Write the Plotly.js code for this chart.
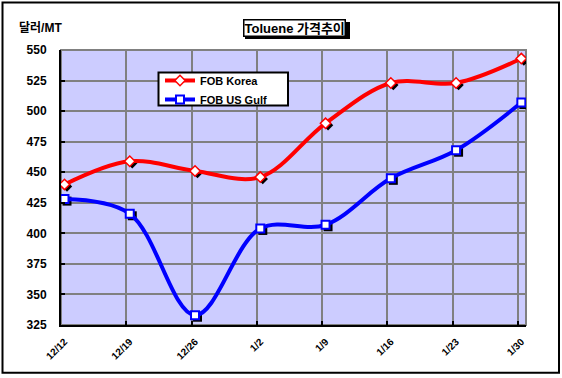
<!DOCTYPE html>
<html><head><meta charset="utf-8">
<script src="https://cdn.plot.ly/plotly-3.0.1.min.js"></script>
<style>html,body{margin:0;padding:0;background:#fff}#c{width:562px;height:378px}</style>
</head><body><div id="c"></div>
<script>
var categories = ['12/12','12/19','12/26','1/2','1/9','1/16','1/23','1/30'];
var fobKorea = [440, 459, 451, 446, 490, 523, 523, 543];
var fobUSGulf = [428, 416, 333, 404, 407, 445, 468, 507];
var yTicks = [325, 350, 375, 400, 425, 450, 475, 500, 525, 550];
var seriesNames = ['FOB Korea', 'FOB US Gulf'];

var FONT = 'Liberation Sans, Arial, Noto Sans CJK KR, sans-serif';
var pxX = 65.26, pxY = 275.3 / 225;
var gridRange = [0, 7.125];
var dataShift = 3.5 / pxX;
var shadowShiftX = 2.5 / pxX, shadowShiftY = 2 / pxY;
function px2x(p) { return (p - 61) / 465; }
function px2y(p) { return (325.3 - p) / 275.3; }

var traces = [
  // invisible carrier for the grid axes (main subplot)
  {x: categories, y: fobKorea, xaxis: 'x', yaxis: 'y', mode: 'markers', showlegend: false, hoverinfo: 'skip',
   marker: {opacity: 0, size: 1}},
  {x: categories, y: fobKorea, xaxis: 'x2', yaxis: 'y2', mode: 'markers', showlegend: false, hoverinfo: 'skip',
   marker: {symbol: 'diamond', size: 8, color: '#000', line: {width: 0}}},
  {x: categories, y: fobUSGulf, xaxis: 'x2', yaxis: 'y2', mode: 'markers', showlegend: false, hoverinfo: 'skip',
   marker: {symbol: 'square', size: 9, color: '#000', line: {width: 0}}},
  {x: categories, y: fobKorea, xaxis: 'x3', yaxis: 'y3', name: seriesNames[0], mode: 'lines+markers',
   line: {color: '#FF0000', width: 4, shape: 'spline', smoothing: 1},
   marker: {symbol: 'diamond', size: 8, color: '#FFFFFF', line: {color: '#FF0000', width: 1.5}}},
  {x: categories, y: fobUSGulf, xaxis: 'x3', yaxis: 'y3', name: seriesNames[1], mode: 'lines+markers',
   line: {color: '#0000FF', width: 4, shape: 'spline', smoothing: 1},
   marker: {symbol: 'square', size: 8, color: '#FFFFFF', line: {color: '#0000FF', width: 2}}}
];

var yRange = [yTicks[0], yTicks[yTicks.length - 1]];
var layout = {
  width: 562, height: 378,
  margin: {l: 61, r: 36, t: 50, b: 53, pad: 0},
  paper_bgcolor: '#FFFFFF', plot_bgcolor: '#CCCCFF',
  font: {family: FONT, size: 12, color: '#000'},
  showlegend: true,
  legend: {x: px2x(160), y: px2y(66), xanchor: 'left', yanchor: 'top',
    bgcolor: 'rgba(0,0,0,0)', borderwidth: 0,
    font: {family: FONT, size: 11, color: '#000', weight: 'bold'}, tracegroupgap: 0},
  xaxis: {type: 'category', range: gridRange, showgrid: true, gridcolor: '#808080', gridwidth: 2,
    zeroline: false, showticklabels: false, ticks: 'inside', ticklen: 4, tickwidth: 2, tickcolor: '#000',
    showline: true, linecolor: '#000', linewidth: 2, fixedrange: true, automargin: false},
  yaxis: {type: 'linear', range: yRange, tickvals: yTicks, showgrid: true, gridcolor: '#808080', gridwidth: 2,
    zeroline: false, ticks: 'inside', ticklen: 4, tickwidth: 2, tickcolor: '#000', ticklabelstandoff: 10,
    showline: true, linecolor: '#000', linewidth: 2, automargin: false,
    tickfont: {family: FONT, size: 12, color: '#000', weight: 'bold'}},
  xaxis2: {type: 'category', overlaying: 'x', anchor: 'y2', visible: false,
    range: [gridRange[0] - dataShift - shadowShiftX, gridRange[1] - dataShift - shadowShiftX]},
  yaxis2: {type: 'linear', overlaying: 'y', anchor: 'x2', visible: false,
    range: [yRange[0] + shadowShiftY, yRange[1] + shadowShiftY]},
  xaxis3: {type: 'category', overlaying: 'x', anchor: 'y3', side: 'bottom',
    range: [gridRange[0] - dataShift, gridRange[1] - dataShift],
    showgrid: false, zeroline: false, showline: false, ticks: '', tickangle: -45, ticklabelstandoff: 8,
    automargin: false, tickfont: {family: FONT, size: 10, color: '#000', weight: 'bold'}},
  yaxis3: {type: 'linear', overlaying: 'y', anchor: 'x3', range: yRange,
    showgrid: false, zeroline: false, showline: false, showticklabels: false, ticks: ''},
  shapes: [
    {type: 'rect', xref: 'paper', yref: 'paper', x0: 0, x1: 1, y0: 0, y1: 1, layer: 'below',
     line: {color: '#808080', width: 2}},
    {type: 'rect', xref: 'paper', yref: 'paper', x0: px2x(2.5), x1: px2x(559), y0: px2y(373), y1: px2y(2.5),
     line: {color: '#000', width: 2}},
    // legend frame
    {type: 'rect', xref: 'paper', yref: 'paper', x0: px2x(158.5), x1: px2x(288), y0: px2y(105.5), y1: px2y(72.5),
     fillcolor: '#FFFFFF', line: {color: '#000', width: 2}, layer: 'above'},
    // title shadow
    {type: 'rect', xref: 'paper', yref: 'paper', x0: px2x(245), x1: px2x(350), y0: px2y(39), y1: px2y(22),
     fillcolor: '#000', line: {width: 0}}
  ],
  annotations: [
    {text: 'Toluene 가격추이', xref: 'paper', yref: 'paper', x: px2x(294.4), y: px2y(27.5),
     xanchor: 'center', yanchor: 'middle', showarrow: false,
     font: {family: FONT, size: 13, color: '#000', weight: 'bold'}, bgcolor: '#FFFFFF', bordercolor: '#000',
     borderwidth: 1.5, borderpad: 0},
    {text: '달러/MT', xref: 'paper', yref: 'paper', x: px2x(16.5), y: px2y(28),
     xanchor: 'left', yanchor: 'middle', showarrow: false,
     font: {family: FONT, size: 12, color: '#000', weight: 'bold'}}
  ]
};
Plotly.newPlot('c', traces, layout, {staticPlot: true, displayModeBar: false});
</script></body></html>
